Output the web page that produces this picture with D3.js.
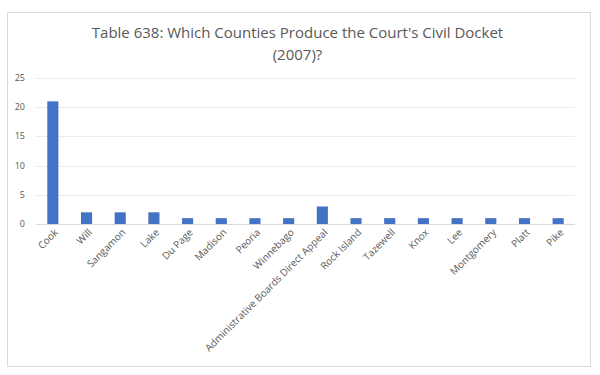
<!DOCTYPE html>
<html>
<head>
<meta charset="utf-8">
<script src="https://cdn.jsdelivr.net/npm/d3@7"></script>
<style>
  body { margin: 0; background: #fff; }
  text { font-family: "Open Sans", sans-serif; }
</style>
</head>
<body>
<svg id="chart"></svg>
<script>
const counties = ['Cook', 'Will', 'Sangamon', 'Lake', 'Du Page', 'Madison', 'Peoria', 'Winnebago',
  'Administrative Boards Direct Appeal', 'Rock Island', 'Tazewell', 'Knox', 'Lee', 'Montgomery',
  'Platt', 'Pike'];
const cases = [21, 2, 2, 2, 1, 1, 1, 1, 3, 1, 1, 1, 1, 1, 1, 1];
const y_ticks = [0, 5, 10, 15, 20, 25];

const width = 600;
const height = 375;

const svg = d3.select('#chart')
  .attr('width', width)
  .attr('height', height);

// outer chart frame
svg.append('rect')
  .attr('x', 7.5).attr('y', 12.5)
  .attr('width', 583).attr('height', 354)
  .attr('fill', '#fff')
  .attr('stroke', '#d9d9d9');

const title = svg.append('text')
  .attr('text-anchor', 'middle')
  .attr('fill', '#595959')
  .attr('font-size', 15);
title.append('tspan').attr('x', 297.5).attr('y', 38)
  .text('Table 638: Which Counties Produce the Court\'s Civil Docket');
title.append('tspan').attr('x', 297.5).attr('y', 60).text('(2007)?');

const x = d3.scaleBand()
  .domain(counties)
  .range([36, 575])
  .paddingInner(0.67)
  .paddingOuter(0.335);

const y = d3.scaleLinear()
  .domain([0, 25])
  .range([224, 78]);

// gridlines
svg.append('g')
  .selectAll('line')
  .data(y_ticks)
  .join('line')
    .attr('x1', 36)
    .attr('x2', 575)
    .attr('y1', d => Math.round(y(d)) + 0.5)
    .attr('y2', d => Math.round(y(d)) + 0.5)
    .attr('stroke', d => d === 0 ? '#d9d9d9' : '#ececec');

svg.append('g')
  .selectAll('text')
  .data(y_ticks)
  .join('text')
    .attr('x', 25)
    .attr('y', d => y(d) + 3)
    .attr('text-anchor', 'end')
    .attr('fill', '#595959')
    .attr('font-size', 9)
    .text(d => d);

svg.append('g')
  .selectAll('rect')
  .data(cases)
  .join('rect')
    .attr('x', (d, i) => x(counties[i]))
    .attr('width', x.bandwidth())
    .attr('y', d => y(d))
    .attr('height', d => y(0) - y(d))
    .attr('fill', '#4472c4');

svg.append('g')
  .selectAll('text')
  .data(counties)
  .join('text')
    .attr('transform', d => `translate(${x(d) + x.bandwidth() / 2 + 6},${y(0) + 9}) rotate(-45)`)
    .attr('text-anchor', 'end')
    .attr('fill', '#595959')
    .attr('font-size', 10)
    .text(d => d);
</script>
</body>
</html>
